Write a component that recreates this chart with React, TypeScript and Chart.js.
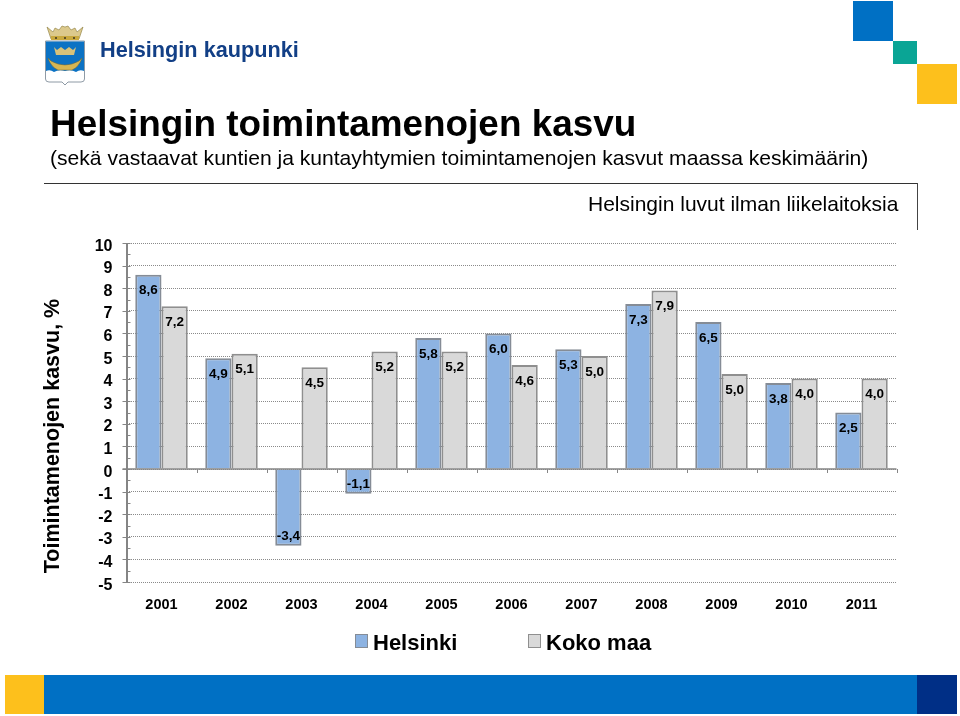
import React, { useEffect, useRef } from "react";
import { Chart, registerables } from "chart.js";

Chart.register(...registerables);

const years = ["2001", "2002", "2003", "2004", "2005", "2006", "2007", "2008", "2009", "2010", "2011"];
const helsinki = [8.6, 4.9, -3.4, -1.1, 5.8, 6.0, 5.3, 7.3, 6.5, 3.8, 2.5];
const kokoMaa = [7.2, 5.1, 4.5, 5.2, 5.2, 4.6, 5.0, 7.9, 4.2, 4.0, 4.0];
const helsinkiLabels = ["8,6", "4,9", "-3,4", "-1,1", "5,8", "6,0", "5,3", "7,3", "6,5", "3,8", "2,5"];
const kokoMaaLabels = ["7,2", "5,1", "4,5", "5,2", "5,2", "4,6", "5,0", "7,9", "5,0", "4,0", "4,0"];
const yAxisTitle = "Toimintamenojen kasvu, %";

const FONT = '"Liberation Sans", Arial, sans-serif';
const AXIS = "#858585";

const overlayPlugin = {
  id: "overlay",
  afterDatasetsDraw(chart: any) {
    const { ctx, scales, chartArea } = chart;
    const x = scales.x;
    const y = scales.y;
    const zero = y.getPixelForValue(0);
    ctx.save();
    ctx.strokeStyle = AXIS;
    ctx.lineWidth = 1;
    // solid axis line
    ctx.beginPath();
    ctx.moveTo(Math.round(chartArea.left) + 0.5, chartArea.top);
    ctx.lineTo(Math.round(chartArea.left) + 0.5, chartArea.bottom);
    ctx.stroke();
    // y-axis tick marks
    y.ticks.forEach((t: any) => {
      const p = Math.round(y.getPixelForValue(t.value)) + 0.5;
      const major = Number.isInteger(t.value);
      ctx.beginPath();
      ctx.moveTo(chartArea.left - (major ? 4 : 0), p);
      ctx.lineTo(chartArea.left + 4, p);
      ctx.stroke();
    });
    // zero line and category ticks
    ctx.lineWidth = 1.5;
    ctx.beginPath();
    ctx.moveTo(chartArea.left - 4, zero);
    ctx.lineTo(chartArea.right, zero);
    ctx.stroke();
    ctx.lineWidth = 1;
    const step = chartArea.width / years.length;
    for (let i = 0; i <= years.length; i++) {
      const p = Math.round(x.getPixelForValue(i) - step / 2) + 0.5;
      ctx.beginPath();
      ctx.moveTo(p, zero);
      ctx.lineTo(p, zero + 4);
      ctx.stroke();
    }
    // value labels
    ctx.fillStyle = "#000";
    ctx.font = `bold 13.5px ${FONT}`;
    ctx.textAlign = "center";
    ctx.textBaseline = "middle";
    chart.data.datasets.forEach((ds: any, di: number) => {
      const meta = chart.getDatasetMeta(di);
      meta.data.forEach((bar: any, i: number) => {
        const negative = ds.data[i] < 0;
        ctx.fillText(ds.valueLabels[i], bar.x, bar.y + (negative ? -10 : 16));
      });
    });
    // y-axis title
    ctx.save();
    ctx.translate(53, 436);
    ctx.rotate(-Math.PI / 2);
    ctx.font = `bold 21.5px ${FONT}`;
    ctx.fillText(yAxisTitle, 0, 0);
    ctx.restore();
    ctx.restore();
  },
};

function Crest() {
  return (
    <svg width="42" height="62" viewBox="0 0 42 62" style={{ position: "absolute", left: 44, top: 25 }}>
      <path d="M3 2 L9 7 L11 3 L15 5 L18 1 L21 2 L24 1 L27 5 L31 3 L33 7 L39 2 L35 14 H7 Z" fill="#dcc98c" stroke="#8a7a3a" strokeWidth="0.6" />
      <rect x="7" y="11" width="28" height="4" fill="#c9a93f" />
      <circle cx="12" cy="13" r="1" fill="#3a3320" />
      <circle cx="21" cy="13" r="1" fill="#3a3320" />
      <circle cx="30" cy="13" r="1" fill="#3a3320" />
      <path d="M1.500 16 H40.500 V54 Q40.500 57 37 57 H24 L21 60 L18 57 H5 Q1.500 57 1.500 54 Z" fill="#fff" stroke="#8e9aa5" strokeWidth="1" />
      <path d="M2 16.500 H40 V46 Q36 44 32 47 Q27 44 21 46 Q15 44 10 47 Q6 44 2 46 Z" fill="#0b72c4" />
      <path d="M10 22 L13 25 L17 22 L21 25 L25 22 L29 25 L32 22 L30 30 H12 Z" fill="#d6c27a" />
      <path d="M4 33 Q7 42 14 45 H28 Q35 42 38 33 L35 36 Q28 40 21 40 Q14 40 7 36 Z" fill="#d6b653" stroke="#7d6a2c" strokeWidth="0.5" />
    </svg>
  );
}

const box = (left: number, top: number, width: number, height: number, background: string): React.CSSProperties => ({
  position: "absolute", left, top, width, height, background,
});
const text = (left: number, top: number, size: number, bold: boolean, color = "#000"): React.CSSProperties => ({
  position: "absolute", left, top, fontFamily: FONT, fontSize: size, fontWeight: bold ? 700 : 400,
  color, lineHeight: `${Math.round(size * 1.2)}px`, whiteSpace: "nowrap",
});

export default function App() {
  const ref = useRef<HTMLCanvasElement>(null);
  useEffect(() => {
    document.body.style.margin = "0";
    const chart = new Chart(ref.current!, {
      type: "bar",
      data: {
        labels: years,
        datasets: [
          { label: "Helsinki", data: helsinki, valueLabels: helsinkiLabels, backgroundColor: "#8db3e2", borderColor: "#858c96", borderWidth: 2 } as any,
          { label: "Koko maa", data: kokoMaa, valueLabels: kokoMaaLabels, backgroundColor: "#d9d9d9", borderColor: "#8f8f8f", borderWidth: 2 } as any,
        ],
      },
      options: {
        animation: false,
        responsive: false,
        layout: { padding: { left: 38, top: 243, right: 63.5, bottom: 94 } },
        plugins: { legend: { display: false }, title: { display: false }, tooltip: { enabled: false } },
        datasets: { bar: { categoryPercentage: 0.75, barPercentage: 1 } },
        scales: {
          x: {
            grid: { display: false },
            border: { display: false },
            ticks: { color: "#000", font: { family: FONT, size: 14.5, weight: "bold" }, padding: 6, maxRotation: 0 },
            afterFit: (s: any) => { s.height = 40; },
          },
          y: {
            min: -5,
            max: 10,
            grid: {
              drawTicks: false,
              color: (c: any) => (Number.isInteger(c.tick?.value) ? "#8a8a8a" : "rgba(0,0,0,0)"),
              lineWidth: 1,
            },
            border: { color: AXIS, width: 1, dash: [1, 1] },
            ticks: {
              stepSize: 0.5,
              autoSkip: false,
              color: "#000",
              padding: 14,
              font: { family: FONT, size: 16, weight: "bold", lineHeight: 0.4 },
              callback: (v: any) => (Number.isInteger(v) ? ["", String(v)] : ""),
            },
            afterFit: (s: any) => { s.width = 88.5; },
          },
        },
      },
      plugins: [overlayPlugin],
    } as any);
    return () => chart.destroy();
  }, []);

  return (
    <div style={{ position: "relative", width: 960, height: 716, overflow: "hidden", background: "#fff" }}>
      <canvas ref={ref} width={960} height={716} style={{ position: "absolute", left: 0, top: 0, display: "block" }} />
      <Crest />
      <div style={text(100, 37, 21.7, true, "#123f86")}>Helsingin kaupunki</div>
      <div style={box(853, 1, 40, 40, "#0070c4")} />
      <div style={box(893, 41, 24, 23, "#0aa595")} />
      <div style={box(917, 64, 40, 40, "#fdc01c")} />
      <div style={text(50, 102, 36.9, true)}>Helsingin toimintamenojen kasvu</div>
      <div style={text(50, 145, 21.1, false)}>(sekä vastaavat kuntien ja kuntayhtymien toimintamenojen kasvut maassa keskimäärin)</div>
      <div style={box(44, 183, 874, 1, "#333")} />
      <div style={box(917, 183, 1, 47, "#444")} />
      <div style={text(588, 191, 21, false)}>Helsingin luvut ilman liikelaitoksia</div>
      <div style={{ ...box(355, 634, 13, 14, "#8db3e2"), border: "1px solid #858c96", boxSizing: "border-box" }} />
      <div style={text(373, 630, 22, true)}>Helsinki</div>
      <div style={{ ...box(528, 634, 13, 14, "#d9d9d9"), border: "1px solid #8f8f8f", boxSizing: "border-box" }} />
      <div style={text(546, 630, 22, true)}>Koko maa</div>
      <div style={box(5, 675, 39, 39, "#fdc01c")} />
      <div style={box(44, 675, 873, 39, "#0070c4")} />
      <div style={box(917, 675, 40, 39, "#002f86")} />
    </div>
  );
}
